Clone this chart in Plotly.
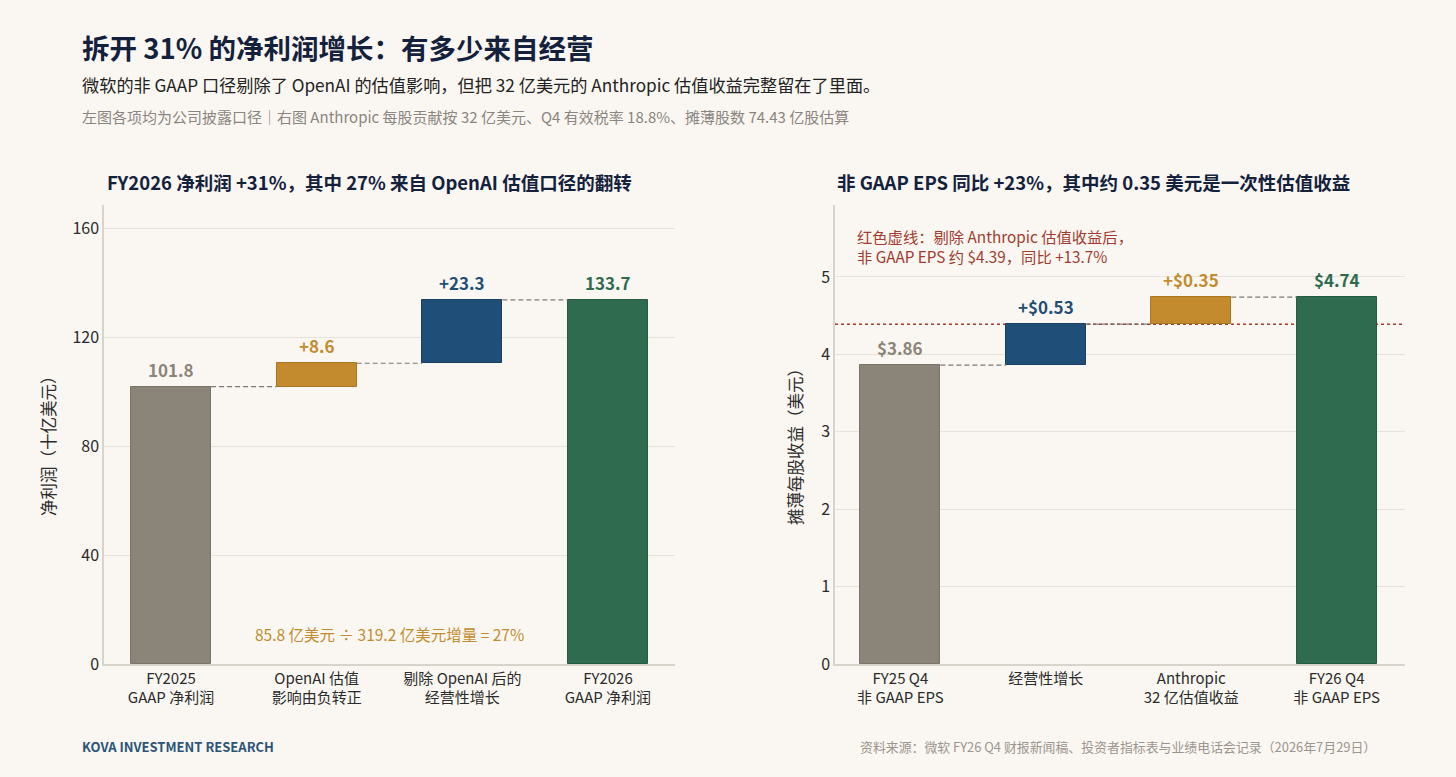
import plotly.graph_objects as go

# Left chart: net income bridge (billion USD)
left_labels = ["FY2025<br>GAAP 净利润", "OpenAI 估值<br>影响由负转正", "剔除 OpenAI 后的<br>经营性增长", "FY2026<br>GAAP 净利润"]
left_values = [101.8, 8.6, 23.3, 133.7]
left_text = ["101.8", "+8.6", "+23.3", "133.7"]
left_kind = ["total", "delta", "delta", "total"]

# Right chart: non-GAAP EPS bridge (USD)
right_labels = ["FY25 Q4<br>非 GAAP EPS", "经营性增长", "Anthropic<br>32 亿估值收益", "FY26 Q4<br>非 GAAP EPS"]
right_values = [3.86, 0.53, 0.35, 4.74]
right_text = ["$3.86", "+$0.53", "+$0.35", "$4.74"]
right_kind = ["total", "delta", "delta", "total"]
eps_ex_anthropic = 4.39

GRAY = "#8b8478"
GOLD = "#c38b2e"
BLUE = "#1f4e79"
GREEN = "#2e6b4f"
EDGE = {GRAY: "#7a7368", GOLD: "#a9771f", BLUE: "#173d60", GREEN: "#245a41"}
left_colors = [GRAY, GOLD, BLUE, GREEN]
right_colors = [GRAY, BLUE, GOLD, GREEN]

BG = "#faf7f2"
FONT = "Noto Sans CJK SC"
BAR_W = 0.55
W, H = 1456, 777  # reference pixel grid


def bridge(values, kinds):
    bases, tops = [], []
    level = 0
    for v, k in zip(values, kinds):
        if k == "total":
            bases.append(0)
            level = v
        else:
            bases.append(level)
            level = level + v
        tops.append(level if k == "delta" else v)
    return bases, tops


fig = go.Figure()


def add_panel(labels, values, kinds, texts, colors, xa, ya):
    bases, tops = bridge(values, kinds)
    heights = [t - b for t, b in zip(tops, bases)]
    xs = list(range(len(labels)))
    fig.add_trace(go.Bar(
        x=xs, y=heights, base=bases, width=BAR_W,
        marker=dict(color=colors, line=dict(width=1, color=[EDGE[c] for c in colors])),
        xaxis=xa, yaxis=ya, showlegend=False, hoverinfo="skip",
    ))
    for i in xs:
        fig.add_annotation(
            x=i, y=tops[i], xref=xa, yref=ya, text="<b>%s</b>" % texts[i],
            showarrow=False, yanchor="bottom", yshift=3,
            font=dict(family=FONT, size=17, color=colors[i]),
        )
    # dashed connectors between bars
    for i in xs[:-1]:
        fig.add_shape(
            type="line", xref=xa, yref=ya,
            x0=i + BAR_W / 2, x1=i + 1 - BAR_W / 2, y0=tops[i], y1=tops[i],
            line=dict(color="#7c7a76", width=1.2, dash="5px,3px"),
        )


add_panel(left_labels, left_values, left_kind, left_text, left_colors, "x", "y")
add_panel(right_labels, right_values, right_kind, right_text, right_colors, "x2", "y2")

# red dotted reference line
fig.add_shape(
    type="line", xref="x2 domain", yref="y2", x0=0, x1=1, layer="below",
    y0=eps_ex_anthropic, y1=eps_ex_anthropic,
    line=dict(color="#a33a2f", width=1.6, dash="dot"),
)

axis_common = dict(
    showgrid=False, zeroline=False, showline=True, linecolor="#d8d4cc", linewidth=1.5,
    ticks="", tickfont=dict(family=FONT, size=15, color="#2b2b2b"),
)
yaxis_common = dict(
    showgrid=True, gridcolor="#e6e2da", gridwidth=1, zeroline=False,
    showline=True, linecolor="#d8d4cc", linewidth=1.5, ticks="",
    tickfont=dict(family=FONT, size=16, color="#2b2b2b"),
)

fig.update_layout(
    width=1456, height=788,
    paper_bgcolor=BG, plot_bgcolor=BG,
    margin=dict(l=0, r=0, t=0, b=0),
    bargap=0,
    xaxis=dict(domain=[104 / W, 675 / W], range=[-0.46, 3.46], anchor="y",
               tickvals=list(range(4)), ticktext=left_labels, **axis_common),
    yaxis=dict(domain=[1 - 664 / H, 1 - 205 / H], range=[0, 168.5], anchor="x",
               tickvals=[0, 40, 80, 120, 160], **yaxis_common),
    xaxis2=dict(domain=[835 / W, 1405 / W], range=[-0.45, 3.47], anchor="y2",
                tickvals=list(range(4)), ticktext=right_labels, **axis_common),
    yaxis2=dict(domain=[1 - 664 / H, 1 - 205 / H], range=[0, 5.93], anchor="x2",
                tickvals=[0, 1, 2, 3, 4, 5], **yaxis_common),
)


def paper_text(x, y, text, size, color, bold=False, xanchor="left", angle=0):
    fig.add_annotation(
        x=x / W, y=1 - y / H, xref="paper", yref="paper",
        text="<b>%s</b>" % text if bold else text, showarrow=False,
        xanchor=xanchor, yanchor="middle", textangle=angle,
        font=dict(family=FONT, size=size, color=color),
    )


paper_text(80, 47, "拆开 31% 的净利润增长：有多少来自经营", 27.5, "#14213d", bold=True)
paper_text(80, 84, "微软的非 GAAP 口径剔除了 OpenAI 的估值影响，但把 32 亿美元的 Anthropic 估值收益完整留在了里面。", 17.2, "#222222")
paper_text(80, 116, "左图各项均为公司披露口径｜右图 Anthropic 每股贡献按 32 亿美元、Q4 有效税率 18.8%、摊薄股数 74.43 亿股估算", 15, "#8a8580")
paper_text(105, 182, "FY2026 净利润 +31%，其中 27% 来自 OpenAI 估值口径的翻转", 18.5, "#14213d", bold=True)
paper_text(835, 182, "非 GAAP EPS 同比 +23%，其中约 0.35 美元是一次性估值收益", 18.5, "#14213d", bold=True)
paper_text(48, 442, "净利润（十亿美元）", 16.5, "#2b2b2b", xanchor="center", angle=-90)
paper_text(795, 442, "摊薄每股收益（美元）", 16.5, "#2b2b2b", xanchor="center", angle=-90)
paper_text(80, 746, "KOVA INVESTMENT RESEARCH", 13, "#2c5478", bold=True)
paper_text(1378, 746, "资料来源：微软 FY26 Q4 财报新闻稿、投资者指标表与业绩电话会记录（2026年7月29日）", 12.9, "#9a958e", xanchor="right")

fig.add_annotation(
    x=1.5, y=11, xref="x", yref="y", showarrow=False,
    text="85.8 亿美元 ÷ 319.2 亿美元增量 = 27%",
    font=dict(family=FONT, size=15.5, color=GOLD),
)
fig.add_annotation(
    x=0.035, y=5.4, xref="x2 domain", yref="y2", showarrow=False,
    xanchor="left", yanchor="middle", align="left",
    text="红色虚线：剔除 Anthropic 估值收益后，<br>非 GAAP EPS 约 $4.39，同比 +13.7%",
    font=dict(family=FONT, size=15.3, color="#a33a2f"),
)

fig.write_html(
    "out.html",
    config={"displayModeBar": False},
    post_script="document.body.style.margin='0';document.body.style.background='%s';" % BG,
)
